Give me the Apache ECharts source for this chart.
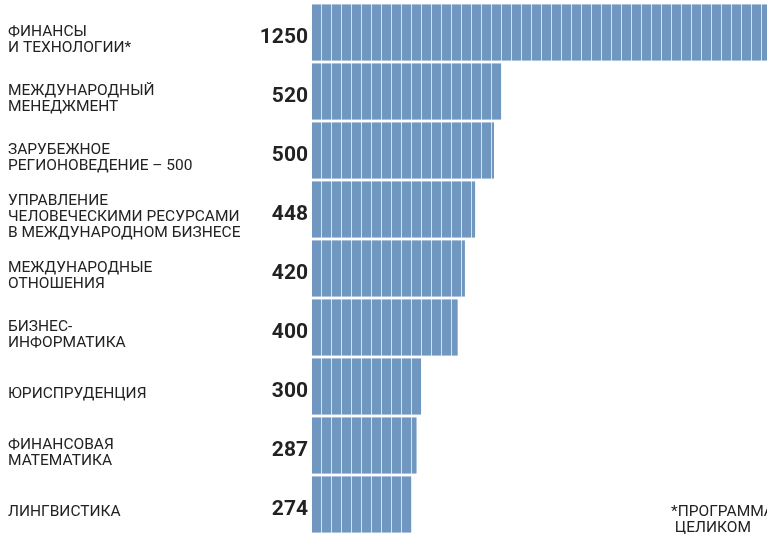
<!DOCTYPE html>
<html>
<head>
<meta charset="utf-8">
<script src="https://cdn.jsdelivr.net/npm/echarts@6/dist/echarts.min.js"></script>
<style>
  html, body { margin: 0; padding: 0; background: #fff; }
  #chart { width: 767px; height: 534px; }
</style>
</head>
<body>
<div id="chart"></div>
<script>
// направления и число мест
const programs = [
  'ФИНАНСЫ\nИ ТЕХНОЛОГИИ*',
  'МЕЖДУНАРОДНЫЙ\nМЕНЕДЖМЕНТ',
  'ЗАРУБЕЖНОЕ\nРЕГИОНОВЕДЕНИЕ – 500',
  'УПРАВЛЕНИЕ\nЧЕЛОВЕЧЕСКИМИ РЕСУРСАМИ\nВ МЕЖДУНАРОДНОМ БИЗНЕСЕ',
  'МЕЖДУНАРОДНЫЕ\nОТНОШЕНИЯ',
  'БИЗНЕС-\nИНФОРМАТИКА',
  'ЮРИСПРУДЕНЦИЯ',
  'ФИНАНСОВАЯ\nМАТЕМАТИКА',
  'ЛИНГВИСТИКА'
]
const places = [1250, 520, 500, 448, 420, 400, 300, 287, 274]
const footnote = '*ПРОГРАММА\n ЦЕЛИКОМ'

const BAR_H = 56
const SEG = 10 // шаг сегментов, px

const chart = echarts.init(document.getElementById('chart'))
chart.setOption({
  animation: false,
  grid: { left: 312, top: 3, width: 457, height: 536 },
  xAxis: { type: 'value', min: 0, max: 1250, show: false },
  yAxis: {
    type: 'category',
    inverse: true,
    data: programs,
    show: false
  },
  series: [
    {
      // подложка (светлые промежутки) + подписи значений
      type: 'bar',
      data: places,
      barWidth: BAR_H,
      itemStyle: { color: '#d6e1ee' },
      label: {
        show: true,
        position: 'left',
        distance: 4,
        offset: [0, 5],
        color: '#222',
        fontFamily: 'Roboto',
        fontWeight: 'bold',
        fontSize: 21
      }
    },
    {
      // тёмные сегменты и названия направлений
      type: 'custom',
      data: places.map((v, i) => [v, i]),
      encode: { x: 0, y: 1 },
      z: 3,
      clip: false,
      renderItem: (params, api) => {
        const cat = api.value(1)
        const p0 = api.coord([0, cat])
        const p1 = api.coord([api.value(0), cat])
        const y = p0[1] - BAR_H / 2
        const children = [{
          type: 'text',
          x: p0[0] - 304,
          y: p0[1] + 8,
          style: {
            text: programs[cat],
            fill: '#222',
            font: '15.5px Roboto',
            lineHeight: 16,
            align: 'left',
            verticalAlign: 'middle'
          }
        }]
        for (let x = p0[0]; x < p1[0]; x += SEG) {
          children.push({
            type: 'rect',
            shape: { x: x, y: y, width: Math.min(SEG - 1, p1[0] - x), height: BAR_H },
            style: { fill: '#7097c0' }
          })
        }
        return { type: 'group', children: children }
      }
    }
  ],
  graphic: [
    {
      type: 'text',
      left: 671,
      top: 504,
      style: {
        text: footnote,
        fill: '#222',
        font: '15.5px Roboto',
        lineHeight: 16
      }
    }
  ]
})
</script>
</body>
</html>
